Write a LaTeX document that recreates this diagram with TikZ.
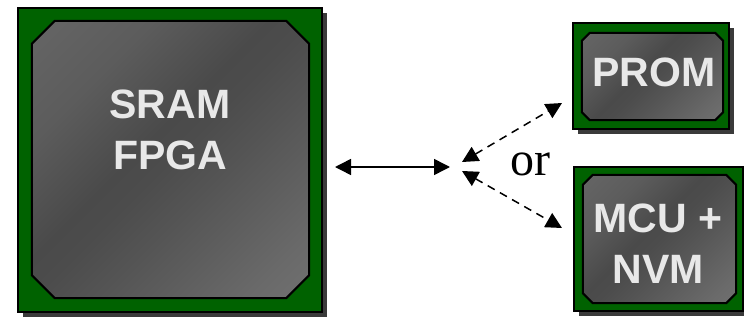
\documentclass[tikz,border=0pt]{standalone}
\usepackage{fontspec}
\setmainfont{Liberation Serif}
\newfontfamily\chipsans{Liberation Sans}
\usetikzlibrary{shadows,arrows.meta}
\definecolor{chipgreen}{RGB}{0,98,0}
\definecolor{shadowgray}{RGB}{58,58,58}
\definecolor{chiptext}{RGB}{232,232,232}
\definecolor{gA}{HTML}{6E6E6E}
\definecolor{gB}{HTML}{5C5C5C}
\definecolor{gC}{HTML}{4A4A4A}
\definecolor{gC2}{HTML}{4C4C4C}
\definecolor{gD}{HTML}{555555}
\definecolor{gE}{HTML}{6A6A6A}
\definecolor{gF}{HTML}{7C7C7C}
\pgfdeclarehorizontalshading{chipshade}{100bp}{color(0bp)=(gA); color(30bp)=(gB); color(45bp)=(gC); color(50bp)=(gC2); color(59bp)=(gD); color(78bp)=(gE); color(100bp)=(gF)}
\tikzset{
  board/.style={rectangle, draw=black, line width=1.5pt, fill=chipgreen, inner sep=0pt,
    drop shadow={shadow xshift=5pt, shadow yshift=-5pt, fill=shadowgray, opacity=1}},
  diebox/.style={rectangle, inner sep=0pt},
  die/.style={draw=black, line width=2pt, shading=chipshade, shading angle=-45, line join=miter},
  chiplabel/.style={text=chiptext, align=center, font=\chipsans\bfseries\fontsize{41}{51}\selectfont},
  link/.style={line width=1.5pt, {Triangle[length=16pt,width=16pt]}-{Triangle[length=16pt,width=16pt]}},
  optlink/.style={link, dash pattern=on 8pt off 6pt}
}
\newcommand{\chamferdie}[2]{%
  \path[die] ([xshift=#2]#1.north west) -- ([xshift=-#2]#1.north east)
    -- ([yshift=-#2]#1.north east) -- ([yshift=#2]#1.south east)
    -- ([xshift=-#2]#1.south east) -- ([xshift=#2]#1.south west)
    -- ([yshift=#2]#1.south west) -- ([yshift=-#2]#1.north west) -- cycle;}
\begin{document}
\begin{tikzpicture}[x=1pt,y=-1pt]
\useasboundingbox (0,0) rectangle (744,321);
% SRAM FPGA
\node[board, minimum width=304pt, minimum height=304pt] (fpgaboard) at (170,160) {};
\node[diebox, minimum width=277pt, minimum height=277pt] (fpgadie) at (170.5,159.5) {};
\chamferdie{fpgadie}{23pt}
\node[chiplabel] (fpgatext) at (170,130) {SRAM\\FPGA};
% PROM
\node[board, minimum width=156pt, minimum height=106pt] (promboard) at (651,76) {};
\node[diebox, minimum width=141pt, minimum height=87pt] (promdie) at (652.5,76.5) {};
\chamferdie{promdie}{8pt}
\node[chiplabel] (promtext) at (654,72) {PROM};
% MCU + NVM
\node[board, minimum width=169pt, minimum height=144pt] (mcuboard) at (658.5,239) {};
\node[diebox, minimum width=153pt, minimum height=128pt] (mcudie) at (659.5,239) {};
\chamferdie{mcudie}{10pt}
\node[chiplabel] (mcutext) at (658,244) {MCU +\\NVM};
% connectors
\coordinate (busL) at (335,167);
\coordinate (busR) at (450,167);
\coordinate (hubU) at (462,162);
\coordinate (hubD) at (462,171);
\coordinate (toprom) at (562,103);
\coordinate (tomcu) at (562,228);
\draw[link] (busL) -- (busR);
\draw[optlink] (hubU) -- (toprom);
\draw[optlink] (hubD) -- (tomcu);
\node[font=\fontsize{48}{56}\selectfont] (ortext) at (530,164.5) {or};
\end{tikzpicture}
\end{document}
